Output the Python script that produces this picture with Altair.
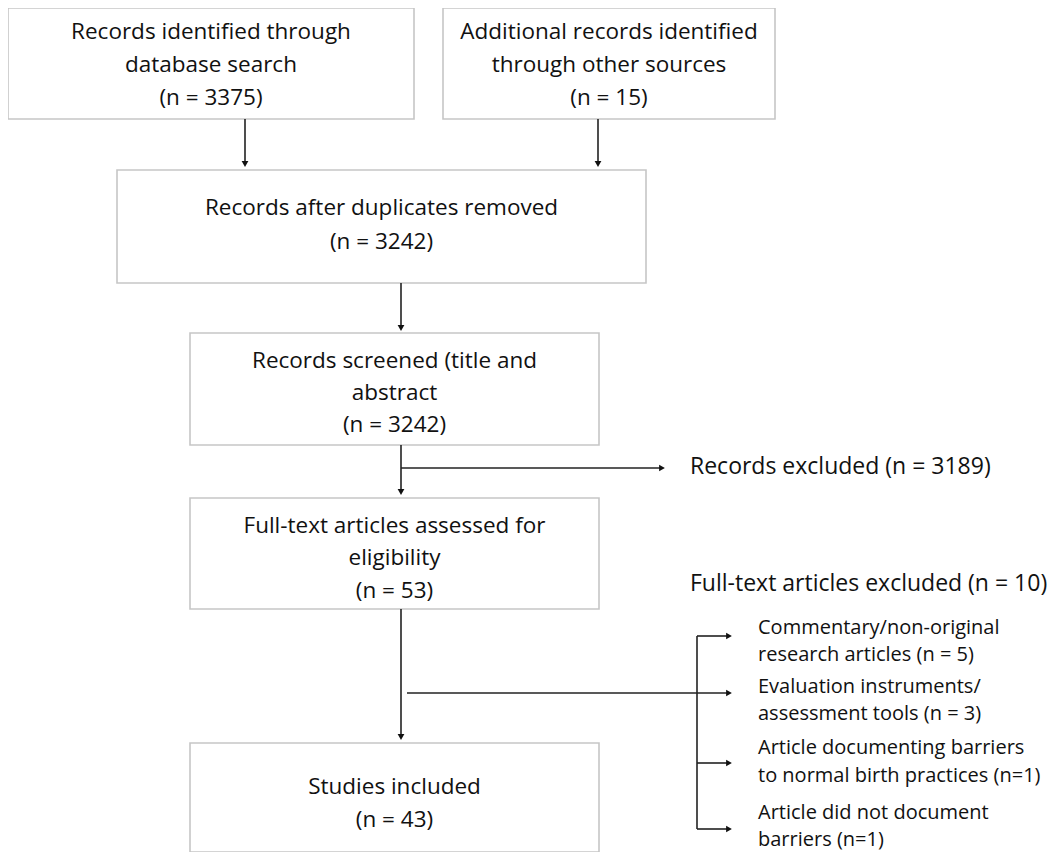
import altair as alt
import pandas as pd

# ---- boxes (image pixel coordinates) ----
box_x1 = [8, 443, 117, 190, 190, 190]
box_x2 = [414, 775, 646, 599, 599, 599]
box_y1 = [8, 8, 170, 333, 498, 743]
box_y2 = [119, 119, 283, 445, 609, 852]
box_lines = [
    ["Records identified through", "database search", "(n = 3375)"],
    ["Additional records identified", "through other sources", "(n = 15)"],
    ["Records after duplicates removed", "(n = 3242)"],
    ["Records screened (title and", "abstract", "(n = 3242)"],
    ["Full-text articles assessed for", "eligibility", "(n = 53)"],
    ["Studies included", "(n = 43)"],
]
box_line_y = [[32, 65, 98], [32, 65, 98], [208, 242], [361, 393, 425], [526, 558, 591], [787, 820]]

# ---- side labels ----
side_text = ["Records excluded (n = 3189)", "Full-text articles excluded (n = 10)"]
side_x = [690, 690]
side_y = [467, 584]

sub_text = ["Commentary/non-original", "research articles (n = 5)",
            "Evaluation instruments/", "assessment tools (n = 3)",
            "Article documenting barriers", "to normal birth practices (n=1)",
            "Article did not document", "barriers (n=1)"]
sub_x = [758] * 8
sub_y = [628, 655, 687, 714, 748, 776, 813, 840]

# ---- connector segments ----
seg_x1 = [245, 598, 401, 401, 401, 401, 407, 697, 697, 697, 697]
seg_y1 = [119, 119, 283, 445, 468, 609, 693, 636, 636, 763, 829]
seg_x2 = [245, 598, 401, 401, 662, 401, 728, 697, 728, 728, 728]
seg_y2 = [164, 164, 328, 492, 468, 737, 693, 829, 636, 763, 829]

# ---- arrow heads ----
head_x = [245, 598, 401, 401, 662, 401, 729, 729, 729, 729]
head_y = [164, 164, 328, 492, 468, 737, 693, 636, 763, 829]
head_dir = ["down", "down", "down", "down", "right", "down", "right", "right", "right", "right"]

FONT = "Open Sans"

boxes = pd.DataFrame({"x1": box_x1, "x2": box_x2, "y1": box_y1, "y2": box_y2})
rows = []
for lines, ys, a, b in zip(box_lines, box_line_y, box_x1, box_x2):
    for t, yy in zip(lines, ys):
        rows.append({"t": t, "x": (a + b) / 2, "y": yy})
box_text = pd.DataFrame(rows)
side = pd.DataFrame({"t": side_text, "x": side_x, "y": side_y})
sub = pd.DataFrame({"t": sub_text, "x": sub_x, "y": sub_y})
segs = pd.DataFrame({"x1": seg_x1, "y1": seg_y1, "x2": seg_x2, "y2": seg_y2})
heads = pd.DataFrame({"x": head_x, "y": head_y, "d": head_dir})

xs = alt.Scale(domain=[8, 1053], nice=False, zero=False)
ys = alt.Scale(domain=[8, 852], nice=False, zero=False, reverse=True)
X = lambda f: alt.X(f, type="quantitative", scale=xs, axis=None)
Y = lambda f: alt.Y(f, type="quantitative", scale=ys, axis=None)

rect = alt.Chart(boxes).mark_rect(fill="white", stroke="#c6c6c6", strokeWidth=1.6).encode(
    x=X("x1"), x2="x2", y=Y("y1"), y2="y2")

lines = alt.Chart(segs).mark_rule(color="#222222", strokeWidth=1.6).encode(
    x=X("x1"), x2="x2", y=Y("y1"), y2="y2")

down = alt.Chart(heads).transform_filter(alt.datum.d == "down").mark_point(
    shape="triangle-down", filled=True, color="#111111", size=45, opacity=1).encode(
    x=X("x"), y=Y("y"))
right = alt.Chart(heads).transform_filter(alt.datum.d == "right").mark_point(
    shape="triangle-right", filled=True, color="#111111", size=45, opacity=1).encode(
    x=X("x"), y=Y("y"))

btext = alt.Chart(box_text).mark_text(font=FONT, fontSize=22.5, color="#111111",
                                      align="center", baseline="middle").encode(
    x=X("x"), y=Y("y"), text="t:N")
stext = alt.Chart(side).mark_text(font=FONT, fontSize=23, color="#111111",
                                  align="left", baseline="middle").encode(
    x=X("x"), y=Y("y"), text="t:N")
subt = alt.Chart(sub).mark_text(font=FONT, fontSize=20, color="#111111",
                                align="left", baseline="middle").encode(
    x=X("x"), y=Y("y"), text="t:N")

chart = alt.layer(rect, lines, down, right, btext, stext, subt).properties(
    width=1045, height=844, padding=0, background="white",
    autosize=alt.AutoSizeParams(type="none")
).configure_view(stroke=None, strokeWidth=0)

chart.save("out.html", embed_options={"renderer": "svg", "actions": False})
